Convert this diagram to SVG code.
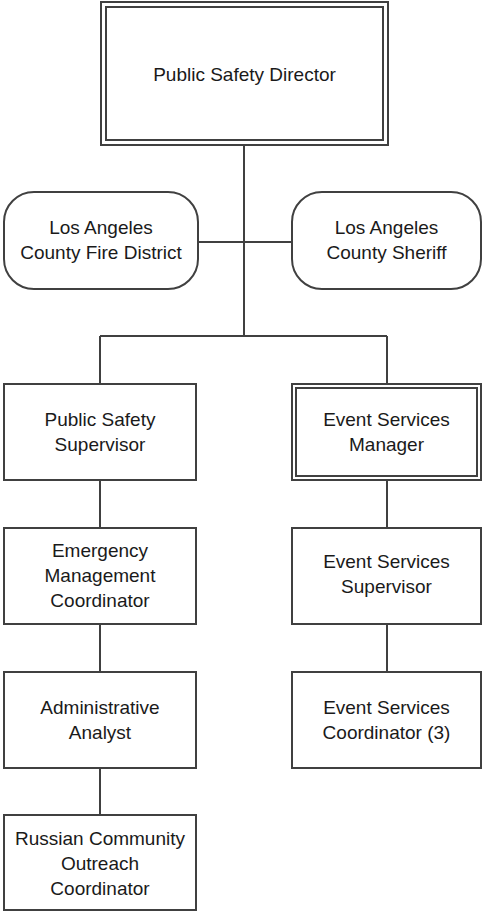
<svg xmlns="http://www.w3.org/2000/svg" width="483" height="911" viewBox="0 0 483 911">
<style>
.box{fill:#fff;stroke:#404040;stroke-width:2}
.ln{fill:none;stroke:#404040;stroke-width:2}
text{font-family:"Liberation Sans",Arial,sans-serif;font-size:19px;fill:#1a1a1a;text-anchor:middle}
</style>
<rect width="483" height="911" fill="#fff"/>
<g id="connectors" class="ln">
<path d="M244 145V336M198 242H292M100 336H387M100 336V384M387 336V384M100 480V528M100 624V672M100 768V815M387 480V528M387 624V672"/>
</g>
<g id="director"><rect class="box" x="101" y="2" width="287" height="143"/><rect class="box" x="106" y="7" width="277" height="133"/><text x="244.5" y="81">Public Safety Director</text></g>
<g id="fire"><rect class="box" x="4" y="192" width="194" height="97" rx="30"/><text x="101" y="234">Los Angeles</text><text x="101" y="259">County Fire District</text></g>
<g id="sheriff"><rect class="box" x="292" y="192" width="189" height="97" rx="30"/><text x="386.5" y="234">Los Angeles</text><text x="386.5" y="259">County Sheriff</text></g>
<g id="pss"><rect class="box" x="4" y="384" width="192" height="96"/><text x="100" y="426">Public Safety</text><text x="100" y="451">Supervisor</text></g>
<g id="esm"><rect class="box" x="292" y="384" width="189" height="96"/><rect class="box" x="296" y="388" width="181" height="88"/><text x="386.5" y="426">Event Services</text><text x="386.5" y="451">Manager</text></g>
<g id="emc"><rect class="box" x="4" y="528" width="192" height="96"/><text x="100" y="557">Emergency</text><text x="100" y="582">Management</text><text x="100" y="607">Coordinator</text></g>
<g id="ess"><rect class="box" x="292" y="528" width="189" height="96"/><text x="386.5" y="568">Event Services</text><text x="386.5" y="593">Supervisor</text></g>
<g id="aa"><rect class="box" x="4" y="672" width="192" height="96"/><text x="100" y="714">Administrative</text><text x="100" y="739">Analyst</text></g>
<g id="esc"><rect class="box" x="292" y="672" width="189" height="96"/><text x="386.5" y="714">Event Services</text><text x="386.5" y="739">Coordinator (3)</text></g>
<g id="rco"><rect class="box" x="4" y="815" width="192" height="95"/><text x="100" y="845">Russian Community</text><text x="100" y="870">Outreach</text><text x="100" y="895">Coordinator</text></g>
</svg>
